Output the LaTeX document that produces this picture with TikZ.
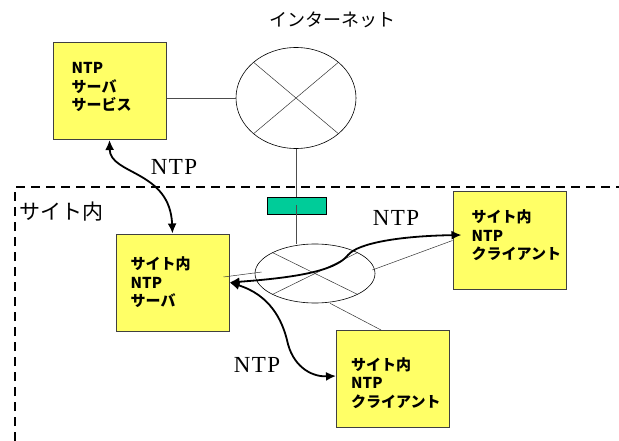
\documentclass[tikz,border=0pt]{standalone}
\usepackage{fontspec}
\usepackage{tikz}
\usetikzlibrary{positioning,shapes.geometric,arrows.meta}
\newfontfamily\jpfont{Noto Sans CJK JP}
\newfontfamily\ntpfont{Liberation Serif}[LetterSpace=6]
\definecolor{boxyellow}{HTML}{FFFF66}
\definecolor{gwgreen}{HTML}{00CC99}
\tikzset{
  sitebox/.style={draw=black!75, line width=1pt, fill=boxyellow, minimum width=113pt, minimum height=97pt, inner sep=0pt},
  boxtext/.style={inner sep=0pt, align=left, font=\jpfont\bfseries\fontsize{15}{18.5}\selectfont},
  netoval/.style={draw, ellipse, inner sep=0pt, line width=0.6pt},
  thinline/.style={draw=black!80, line width=0.5pt},
  ntparrow/.style={line width=1.8pt, {Latex[length=10pt,width=9pt]}-{Latex[length=10pt,width=9pt]}},
  ntplabel/.style={inner sep=0pt, font=\ntpfont\fontsize{23}{23}\selectfont},
}
\begin{document}
\begin{tikzpicture}[x=1pt,y=-1pt]
    \useasboundingbox (0,0) rectangle (619,441);
    % site frame
    \draw[line width=2.2pt, dash pattern=on 9pt off 6pt] (15,441) -- (15,187) -- (619,187);
    \node[anchor=west, inner sep=0pt, font=\jpfont\fontsize{21}{21}\selectfont] (sitelabel) at (19,212) {サイト内};
    \node[inner sep=0pt, font=\jpfont\fontsize{18}{18}\selectfont] (inetlabel) at (332,20) {インターネット};

    % internet
    \node[netoval, minimum width=120pt, minimum height=101pt] (inet) at (296,98) {};
    \draw[thinline] (inet.center) +(45:60 and 50.5) -- +(225:60 and 50.5);
    \draw[thinline] (inet.center) +(135:60 and 50.5) -- +(-45:60 and 50.5);

    % site network
    \node[netoval, minimum width=120pt, minimum height=59pt] (lan) at (315,273.5) {};
    \draw[thinline] (lan.center) +(45:60 and 29.5) -- +(225:60 and 29.5);
    \draw[thinline] (lan.center) +(135:60 and 29.5) -- +(-45:60 and 29.5);

    % boxes
    \node[sitebox] (srvc) at (109.5,91) {};
    \node[boxtext, right=19pt of srvc.west, yshift=4pt] (srvctxt) {NTP\\サーバ\\サービス};
    \node[sitebox] (srv) at (172.5,282.5) {};
    \node[boxtext, right=15pt of srv.west] (srvtxt) {サイト内\\NTP\\サーバ};
    \node[sitebox] (cli1) at (509.5,240.5) {};
    \node[boxtext, right=19pt of cli1.west, yshift=5pt] (cli1txt) {サイト内\\NTP\\クライアント};
    \node[sitebox] (cli2) at (393,379) {};
    \node[boxtext, right=15pt of cli2.west, yshift=-4pt] (cli2txt) {サイト内\\NTP\\クライアント};

    % links
    \draw[draw=black!70, line width=0.9pt] (srvc.east |- inet.west) -- (inet.west);
    \node[draw, fill=gwgreen, line width=0.8pt, minimum width=59pt, minimum height=17pt, inner sep=0pt] (gw) at (296.5,205.5) {};
    \draw[draw=black!70, line width=0.9pt] (gw |- inet.south) -- (gw.north);
    \draw[draw=black!70, line width=0.9pt] (gw.center) -- (gw |- lan.north);
    \draw[thinline] ([shift={(-6,-5.5)}]srv.east) -- ([shift={(7,-1.5)}]lan.west);
    \draw[thinline] ([shift={(-3,-3.5)}]lan.east) -- (cli1.west);
    \draw[thinline] ([xshift=15pt]lan.south) -- ([xshift=-12pt]cli2.north);

    % NTP exchanges
    \draw[ntparrow] (srvc.south) .. controls (110,175) and (170,170) .. (srv.north);
    \draw[ntparrow] (srv.east) .. controls (290,278) and (335,272) .. (348,255)
        .. controls (358,243) and (400,236) .. ([shift={(9,-5.5)}]cli1.west);
    \draw[ntparrow] (srv.east) .. controls (270,295) and (282,320) .. (287,340)
        .. controls (292,365) and (310,377) .. ([yshift=3pt]cli2.west);
    \node[ntplabel] (ntpa) at (174,167) {NTP};
    \node[ntplabel] (ntpb) at (396,218) {NTP};
    \node[ntplabel] (ntpc) at (257,365) {NTP};
\end{tikzpicture}
\end{document}
